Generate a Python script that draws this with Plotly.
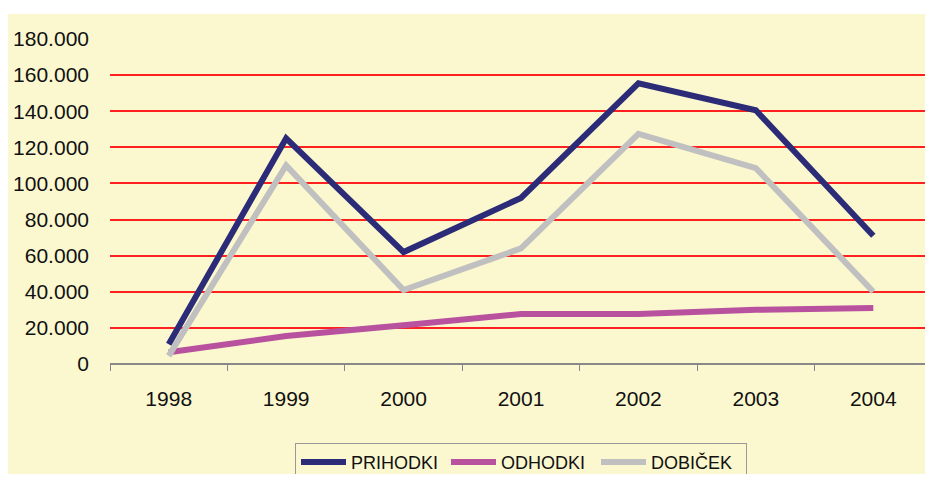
import plotly.graph_objects as go

years = ["1998", "1999", "2000", "2001", "2002", "2003", "2004"]
prihodki = [11000, 125000, 62000, 92000, 155500, 140500, 71000]
odhodki = [6500, 15500, 21500, 27700, 27700, 30000, 31000]
dobicek = [4500, 110000, 41000, 64000, 127500, 108500, 40000]

FONT = "Liberation Sans, Arial, sans-serif"
YELLOW = "#FBF8CF"

fig = go.Figure()
fig.add_trace(go.Scatter(x=years, y=prihodki, mode="lines", name="PRIHODKI",
                         line=dict(color="#2B2B78", width=6)))
fig.add_trace(go.Scatter(x=years, y=odhodki, mode="lines", name="ODHODKI",
                         line=dict(color="#B8529F", width=6)))
fig.add_trace(go.Scatter(x=years, y=dobicek, mode="lines", name="DOBIČEK",
                         line=dict(color="#C0C0C0", width=6)))

# yellow chart area (white strip on top and left like the original)
fig.add_shape(type="rect", xref="paper", yref="paper",
              x0=-0.1253, x1=1.01, y0=-0.4, y1=1.0769,
              fillcolor=YELLOW, line=dict(width=0), layer="below")

fig.update_layout(
    width=925, height=466,
    margin=dict(l=102, r=1, t=31, b=110),
    paper_bgcolor="white",
    plot_bgcolor="rgba(0,0,0,0)",
    separators=",.",
    font=dict(family=FONT, size=21, color="#111111"),
    showlegend=True,
    # container-referenced y so the legend doesn't push the plot upward
    legend=dict(orientation="h", xref="paper", x=0.5, xanchor="center",
                yref="container", y=0.067, yanchor="top",
                bgcolor=YELLOW, bordercolor="#999999", borderwidth=1,
                font=dict(family=FONT, size=18, color="#111111"),
                entrywidth=90, itemwidth=45, tracegroupgap=0),
)
fig.update_xaxes(type="category", range=[-0.5, 6.5], showgrid=False, showline=False,
                 ticks="outside", tickson="boundaries", ticklen=6, tickwidth=1,
                 tickcolor="#888888", ticklabelstandoff=20,
                 tickfont=dict(family=FONT, size=21))
fig.update_yaxes(range=[0, 180000], dtick=20000, tickformat=",.0f",
                 showgrid=True, gridcolor="#FF2020", gridwidth=2,
                 zeroline=True, zerolinecolor="#888888", zerolinewidth=1.5,
                 ticks="", ticklabelstandoff=20,
                 tickfont=dict(family=FONT, size=21))

fig.write_html("out.html")
